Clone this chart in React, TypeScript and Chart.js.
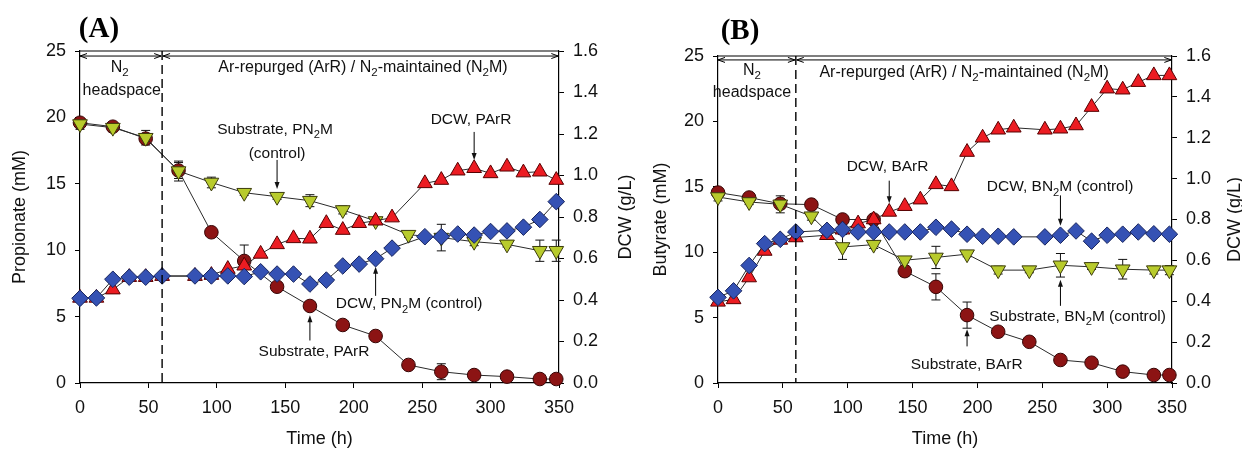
import { useEffect, useRef } from 'react';
import { Chart, registerables } from 'chart.js';
Chart.register(...registerables);

// ---------- data ----------
const SUB_TIMES = [0, 24, 48, 72, 96, 120, 144, 168, 192, 216, 240, 264, 288, 312, 336, 348];
const DCW_TIMES = [0, 12, 24, 36, 48, 60, 84, 96, 108, 120, 132, 144, 156, 168, 180, 192, 204, 216, 228, 252, 264, 276, 288, 300, 312, 324, 336, 348];

// Panel A (propionate)
const A_SUB_PN2M = [19.5, 19.23, 18.47, 15.96, 15.1, 14.33, 14.03, 13.73, 13.03, 12.2, 11.17, 10.95, 10.64, 10.44, 9.96, 9.96];
const A_SUB_PN2M_ERR = [0.4, 0.3, 0.55, 0.75, 0.4, 0.2, 0.2, 0.45, 0.3, 0.2, 0.2, 1.0, 0.3, 0.2, 0.8, 0.8];
const A_SUB_PARR = [19.6, 19.3, 18.4, 16.0, 11.35, 9.19, 7.25, 5.8, 4.37, 3.54, 1.36, 0.85, 0.6, 0.48, 0.3, 0.3];
const A_SUB_PARR_ERR = [0.3, 0.2, 0.3, 0.6, 0.2, 1.2, 0.3, 0.2, 0.2, 0.2, 0.2, 0.6, 0.1, 0.1, 0.1, 0.1];
const A_DCW_PARR = [0.41, 0.41, 0.45, 0.51, 0.51, 0.515, 0.515, 0.52, 0.549, 0.565, 0.622, 0.668, 0.697, 0.695, 0.77, 0.737, 0.77, 0.782, 0.797, 0.962, 0.978, 1.023, 1.035, 1.01, 1.042, 1.014, 1.018, 0.978];
const A_DCW_PN2M = [0.408, 0.41, 0.5, 0.51, 0.51, 0.516, 0.516, 0.516, 0.516, 0.513, 0.536, 0.525, 0.525, 0.477, 0.496, 0.564, 0.573, 0.599, 0.65, 0.705, 0.705, 0.718, 0.713, 0.73, 0.733, 0.751, 0.788, 0.874];

// Panel B (butyrate)
const B_SUB_BN2M = [14.22, 13.84, 13.66, 12.75, 10.4, 10.58, 9.39, 9.6, 9.85, 8.63, 8.63, 9.0, 8.88, 8.7, 8.63, 8.63];
const B_SUB_BN2M_ERR = [0.3, 0.2, 0.65, 0.3, 0.95, 0.3, 0.2, 0.85, 0.2, 0.3, 0.2, 0.9, 0.2, 0.75, 0.3, 0.35];
const B_SUB_BARR = [14.56, 14.18, 13.7, 13.64, 12.5, 12.5, 8.55, 7.35, 5.19, 3.92, 3.15, 1.76, 1.55, 0.87, 0.61, 0.61];
const B_SUB_BARR_ERR = [0.2, 0.2, 0.3, 0.3, 0.2, 0.3, 0.4, 1.0, 1.0, 0.3, 0.2, 0.2, 0.2, 0.2, 0.1, 0.1];
const B_DCW_BARR = [0.397, 0.409, 0.516, 0.646, 0.7, 0.712, 0.723, 0.75, 0.78, 0.8, 0.837, 0.865, 0.897, 0.972, 0.962, 1.13, 1.2, 1.239, 1.249, 1.239, 1.244, 1.26, 1.35, 1.44, 1.435, 1.472, 1.505, 1.505];
const B_DCW_BN2M = [0.419, 0.451, 0.575, 0.682, 0.703, 0.739, 0.747, 0.751, 0.739, 0.739, 0.739, 0.739, 0.739, 0.762, 0.753, 0.728, 0.718, 0.718, 0.715, 0.715, 0.723, 0.744, 0.694, 0.723, 0.728, 0.739, 0.73, 0.728];

// axis ranges / ticks
const X_MIN = 0, X_MAX = 350, X_STEP = 50;
const L_MIN = 0, L_MAX = 25, L_STEP = 5;
const R_MIN = 0, R_MAX = 1.6, R_STEP = 0.2;
const PHASE_SPLIT = 60;

// annotations (data coordinates)
const NOTES_A = [
  { text: 'N_2', x: 29, y: 23.76, ax: 'y', size: 16 },
  { text: 'headspace', x: 30.5, y: 22.0, ax: 'y', size: 16 },
  { text: 'Ar-repurged (ArR) / N_2-maintained (N_2M)', x: 206.8, y: 23.76, ax: 'y', size: 16 },
  { text: 'Substrate, PN_2M', x: 142.5, y: 19.1, ax: 'y', size: 15.5 },
  { text: '(control)', x: 144, y: 17.3, ax: 'y', size: 15.5 },
  { text: 'DCW, PArR', x: 285.7, y: 1.267, ax: 'y1', size: 15.5 },
  { text: 'DCW, PN_2M (control)', x: 240.4, y: 0.381, ax: 'y1', size: 15.5 },
  { text: 'Substrate, PArR', x: 171, y: 2.36, ax: 'y', size: 15.5 },
];
const ARROWS_A = [
  { x: 144, from: 16.8, to: 14.6, ax: 'y' },
  { x: 288, from: 1.21, to: 1.075, ax: 'y1' },
  { x: 216, from: 0.42, to: 0.56, ax: 'y1' },
  { x: 168, from: 3.2, to: 5.1, ax: 'y' },
];
const NOTES_B = [
  { text: 'N_2', x: 26.2, y: 23.9, ax: 'y', size: 16 },
  { text: 'headspace', x: 26.2, y: 22.24, ax: 'y', size: 16 },
  { text: 'Ar-repurged (ArR) / N_2-maintained (N_2M)', x: 189.7, y: 23.76, ax: 'y', size: 16 },
  { text: 'DCW, BArR', x: 130.7, y: 1.057, ax: 'y1', size: 15.5 },
  { text: 'DCW, BN_2M (control)', x: 263.7, y: 0.959, ax: 'y1', size: 15.5 },
  { text: 'Substrate, BN_2M (control)', x: 277.2, y: 5.06, ax: 'y', size: 15.5 },
  { text: 'Substrate, BArR', x: 191.7, y: 1.37, ax: 'y', size: 15.5 },
];
const ARROWS_B = [
  { x: 132, from: 0.99, to: 0.88, ax: 'y1' },
  { x: 264, from: 0.918, to: 0.77, ax: 'y1' },
  { x: 264, from: 5.9, to: 7.9, ax: 'y' },
  { x: 192, from: 2.8, to: 4.1, ax: 'y' },
];

const FONT = "'Liberation Sans', Arial, sans-serif";
const SERIF = "'Liberation Serif', 'Times New Roman', serif";

const STY = {
  yellow: { shape: 'triangle', rot: 180, r: 8.5, fill: '#b8cb2c', stroke: '#3c3c0c' },
  dark: { shape: 'circle', rot: 0, r: 6.8, fill: '#8c1414', stroke: '#360404' },
  red: { shape: 'triangle', rot: 0, r: 8.5, fill: '#ec1c22', stroke: '#560000' },
  blue: { shape: 'rectRot', rot: 0, r: 8.3, fill: '#3552b4', stroke: '#17245e' },
};

function series(xs: number[], ys: number[], err: number[] | null, axis: string, st: any) {
  return {
    data: xs.map((x, i) => ({ x, y: ys[i] })),
    yAxisID: axis,
    showLine: true,
    borderColor: '#2a2a2a',
    borderWidth: 1,
    pointStyle: st.shape,
    pointRotation: st.rot,
    pointRadius: st.r,
    pointBackgroundColor: st.fill,
    pointBorderColor: st.stroke,
    pointBorderWidth: 1,
    clip: false,
    errors: err,
  } as any;
}

function parseRich(s: string) {
  const out: { t: string; sub: boolean }[] = [];
  let buf = '';
  for (let i = 0; i < s.length; i++) {
    if (s[i] === '_' && i + 1 < s.length) {
      if (buf) out.push({ t: buf, sub: false });
      buf = '';
      out.push({ t: s[i + 1], sub: true });
      i++;
    } else buf += s[i];
  }
  if (buf) out.push({ t: buf, sub: false });
  return out;
}

function drawRich(ctx: CanvasRenderingContext2D, s: string, cx: number, cy: number, size: number) {
  const segs = parseRich(s);
  const sub = size * 0.72;
  ctx.textBaseline = 'middle';
  ctx.textAlign = 'left';
  let total = 0;
  const ws = segs.map((g) => {
    ctx.font = `${g.sub ? sub : size}px ${FONT}`;
    const w = ctx.measureText(g.t).width;
    total += w;
    return w;
  });
  let x = cx - total / 2;
  segs.forEach((g, i) => {
    ctx.font = `${g.sub ? sub : size}px ${FONT}`;
    ctx.fillText(g.t, x, g.sub ? cy + size * 0.36 : cy);
    x += ws[i];
  });
}

function makePlugin(cfg: any) {
  return {
    id: 'annot' + cfg.label,
    beforeDatasetsDraw(chart: any) {
      const ctx = chart.ctx;
      ctx.save();
      ctx.strokeStyle = '#111';
      ctx.lineWidth = 1;
      chart.data.datasets.forEach((ds: any) => {
        if (!ds.errors) return;
        const xs = chart.scales.x;
        const ys = chart.scales[ds.yAxisID];
        ds.data.forEach((p: any, i: number) => {
          const e = ds.errors[i];
          if (!e) return;
          const px = xs.getPixelForValue(p.x);
          const y1 = ys.getPixelForValue(p.y + e);
          const y2 = ys.getPixelForValue(p.y - e);
          ctx.beginPath();
          ctx.moveTo(px, y1); ctx.lineTo(px, y2);
          ctx.moveTo(px - 4.5, y1); ctx.lineTo(px + 4.5, y1);
          ctx.moveTo(px - 4.5, y2); ctx.lineTo(px + 4.5, y2);
          ctx.stroke();
        });
      });
      ctx.restore();
    },
    afterDraw(chart: any) {
      const ctx = chart.ctx;
      const { left, right, top, bottom } = chart.chartArea;
      const xs = chart.scales.x;
      ctx.save();
      ctx.fillStyle = '#111';
      ctx.strokeStyle = '#000';
      // top frame line
      ctx.lineWidth = 1.2;
      ctx.beginPath();
      ctx.moveTo(left, top); ctx.lineTo(right, top);
      ctx.stroke();
      // dashed phase line
      const dx = xs.getPixelForValue(PHASE_SPLIT);
      ctx.lineWidth = 1.4;
      ctx.setLineDash([9, 5]);
      ctx.beginPath();
      ctx.moveTo(dx, top); ctx.lineTo(dx, bottom);
      ctx.stroke();
      ctx.setLineDash([]);
      // double arrows for phases
      const ay = chart.scales.y.getPixelForValue(cfg.arrowY);
      ctx.lineWidth = 1;
      const segs = [[X_MIN, PHASE_SPLIT - 0.7], [PHASE_SPLIT + 0.7, X_MAX - 0.5]];
      segs.forEach(([a, b]) => {
        const xa = xs.getPixelForValue(a);
        const xb = xs.getPixelForValue(b);
        ctx.beginPath();
        ctx.moveTo(xa, ay); ctx.lineTo(xb, ay);
        ctx.moveTo(xa + 7, ay - 2.5); ctx.lineTo(xa, ay); ctx.lineTo(xa + 7, ay + 2.5);
        ctx.moveTo(xb - 7, ay - 2.5); ctx.lineTo(xb, ay); ctx.lineTo(xb - 7, ay + 2.5);
        ctx.stroke();
      });
      // pointer arrows
      cfg.arrows.forEach((a: any) => {
        const px = xs.getPixelForValue(a.x);
        const ys = chart.scales[a.ax];
        const y1 = ys.getPixelForValue(a.from);
        const y2 = ys.getPixelForValue(a.to);
        const dir = y2 > y1 ? 1 : -1;
        ctx.beginPath();
        ctx.moveTo(px, y1); ctx.lineTo(px, y2 - dir * 5);
        ctx.stroke();
        ctx.beginPath();
        ctx.moveTo(px, y2);
        ctx.lineTo(px - 2.5, y2 - dir * 7);
        ctx.lineTo(px + 2.5, y2 - dir * 7);
        ctx.closePath();
        ctx.fill();
      });
      // text notes
      cfg.notes.forEach((n: any) => {
        const px = xs.getPixelForValue(n.x);
        const py = chart.scales[n.ax].getPixelForValue(n.y);
        drawRich(ctx, n.text, px, py, n.size);
      });
      // right axis title (reads bottom to top)
      ctx.save();
      ctx.translate(cfg.rightTitleX, (top + bottom) / 2);
      ctx.rotate(-Math.PI / 2);
      ctx.font = `18px ${FONT}`;
      ctx.textAlign = 'center';
      ctx.textBaseline = 'middle';
      ctx.fillText('DCW (g/L)', 0, 0);
      ctx.restore();
      // panel label
      ctx.font = `bold 29px ${SERIF}`;
      ctx.textAlign = 'center';
      ctx.textBaseline = 'middle';
      ctx.fillStyle = '#000';
      ctx.fillText(cfg.label, cfg.labelX, cfg.labelY);
      ctx.restore();
    },
  };
}

function buildConfig(cfg: any) {
  const tickFont = { size: 18, family: FONT };
  const grid = { drawOnChartArea: false, drawTicks: true, tickLength: 5, tickColor: '#000', tickWidth: 1 };
  const border = { color: '#000', width: 1.2 };
  return {
    type: 'scatter',
    data: { datasets: cfg.datasets },
    options: {
      responsive: false,
      animation: false,
      events: [],
      layout: { padding: { top: cfg.top, left: 0, right: 0, bottom: 0 } },
      plugins: { legend: { display: false }, tooltip: { enabled: false }, title: { display: false } },
      scales: {
        x: {
          type: 'linear', min: X_MIN, max: X_MAX,
          ticks: { stepSize: X_STEP, font: tickFont, color: '#111', padding: 9, maxRotation: 0, autoSkip: false },
          grid, border,
          title: { display: true, text: 'Time (h)', font: { size: 18, family: FONT }, color: '#111', padding: { top: 0, bottom: 0 } },
          afterFit: (s: any) => { s.height = 67; },
        },
        y: {
          type: 'linear', position: 'left', min: L_MIN, max: L_MAX,
          ticks: { stepSize: L_STEP, font: tickFont, color: '#111', padding: 9 },
          grid, border,
          title: { display: true, text: cfg.leftTitle, font: { size: 18, family: FONT }, color: '#111', padding: { top: cfg.leftPad, bottom: 0 } },
          afterFit: (s: any) => { s.width = cfg.leftW; },
        },
        y1: {
          type: 'linear', position: 'right', min: R_MIN, max: R_MAX,
          ticks: { stepSize: R_STEP, font: tickFont, color: '#111', padding: 9, callback: (v: any) => Number(v).toFixed(1) },
          grid, border,
          afterFit: (s: any) => { s.width = cfg.rightW; },
        },
      },
    },
    plugins: [makePlugin(cfg)],
  } as any;
}

function Panel({ cfg, width, left }: { cfg: any; width: number; left: number }) {
  const ref = useRef<HTMLCanvasElement | null>(null);
  useEffect(() => {
    if (!ref.current) return;
    const chart = new Chart(ref.current, buildConfig(cfg));
    return () => chart.destroy();
  }, [cfg]);
  return (
    <canvas
      ref={ref}
      width={width}
      height={450}
      style={{ position: 'absolute', left, top: 0, width, height: 450 }}
    />
  );
}

const CFG_A = {
  label: '(A)', labelX: 99, labelY: 30,
  top: 51, leftW: 80, rightW: 86, leftPad: 9.2, rightTitleX: 626,
  leftTitle: 'Propionate (mM)', arrowY: 24.62,
  notes: NOTES_A, arrows: ARROWS_A,
  datasets: [
    series(DCW_TIMES, A_DCW_PN2M, null, 'y1', STY.blue),
    series(DCW_TIMES, A_DCW_PARR, null, 'y1', STY.red),
    series(SUB_TIMES, A_SUB_PN2M, A_SUB_PN2M_ERR, 'y', STY.yellow),
    series(SUB_TIMES, A_SUB_PARR, A_SUB_PARR_ERR, 'y', STY.dark),
  ],
};

const CFG_B = {
  label: '(B)', labelX: 95, labelY: 32,
  top: 56, leftW: 73, rightW: 70, leftPad: 5.2, rightTitleX: 590,
  leftTitle: 'Butyrate (mM)', arrowY: 24.7,
  notes: NOTES_B, arrows: ARROWS_B,
  datasets: [
    series(DCW_TIMES, B_DCW_BN2M, null, 'y1', STY.blue),
    series(DCW_TIMES, B_DCW_BARR, null, 'y1', STY.red),
    series(SUB_TIMES, B_SUB_BN2M, B_SUB_BN2M_ERR, 'y', STY.yellow),
    series(SUB_TIMES, B_SUB_BARR, B_SUB_BARR_ERR, 'y', STY.dark),
  ],
};

export default function App() {
  return (
    <div style={{ position: 'absolute', left: 0, top: 0, width: 1242, height: 450, background: '#fff', overflow: 'hidden' }}>
      <Panel cfg={CFG_A} width={645} left={0} />
      <Panel cfg={CFG_B} width={597} left={645} />
    </div>
  );
}
